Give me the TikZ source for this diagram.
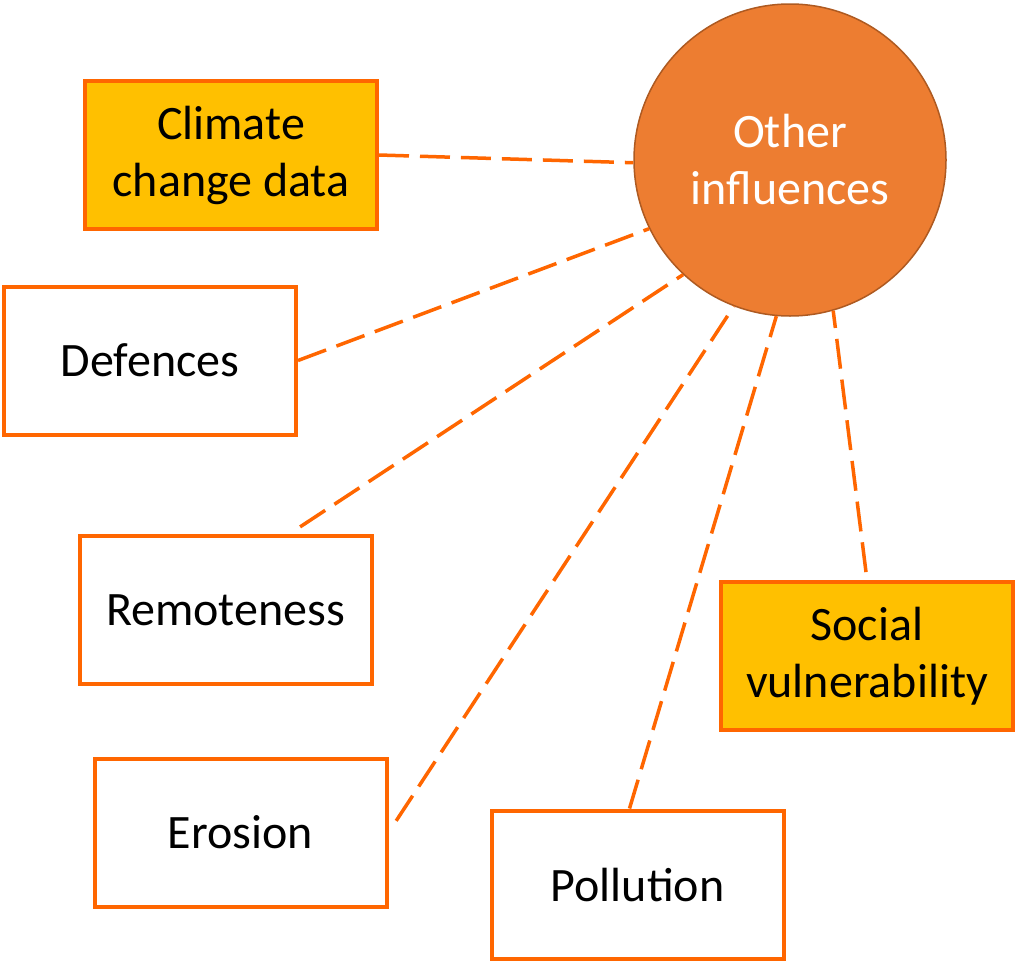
\documentclass[tikz,border=0pt]{standalone}
\usepackage{fontspec}
\setmainfont{Carlito}
\definecolor{lineorange}{HTML}{FF6600}
\definecolor{boxyellow}{HTML}{FFC000}
\definecolor{circorange}{HTML}{ED7D31}
\definecolor{circedge}{HTML}{AE5A21}
\begin{document}
\begin{tikzpicture}[x=1pt, y=-1pt,
        every node/.style={font=\fontsize{48}{57}\selectfont, align=center},
        box/.style={draw=lineorange, line width=4pt, fill=white, minimum width=292pt, minimum height=148pt, inner sep=0pt},
        keybox/.style={box, fill=boxyellow},
        link/.style={draw=lineorange, line width=3.5pt, dash pattern=on 30pt off 11pt}]
    \useasboundingbox (0,0) rectangle (1017,964);
    % centre
    \node[circle, fill=circorange, draw=circedge, line width=1.5pt, minimum size=312pt, text=white] (oth) at (790,160) {Other\\influences};
    % factors
    \node[keybox] (clim) at (231,155) {Climate\\change data};
    \node[box] (def) at (150,360.5) {Defences};
    \node[box] (rem) at (225.5,610) {Remoteness};
    \node[box] (ero) at (240.5,832.5) {Erosion};
    \node[box] (pol) at (637.5,884.5) {Pollution};
    \node[keybox] (soc) at (867,656) {Social\\vulnerability};
    % dashed links
    \draw[link] (clim.east) -- (oth.181);
    \draw[link] (def.east) -- (oth.206);
    \draw[link, shorten <=13pt] (rem.50) -- (oth.227);
    \draw[link, shorten <=14pt] (ero.east) -- (oth.249);
    \draw[link] (pol.96) -- (oth.265);
    \draw[link, shorten <=8pt] (soc.north) -- (oth.286);
\end{tikzpicture}
\end{document}
